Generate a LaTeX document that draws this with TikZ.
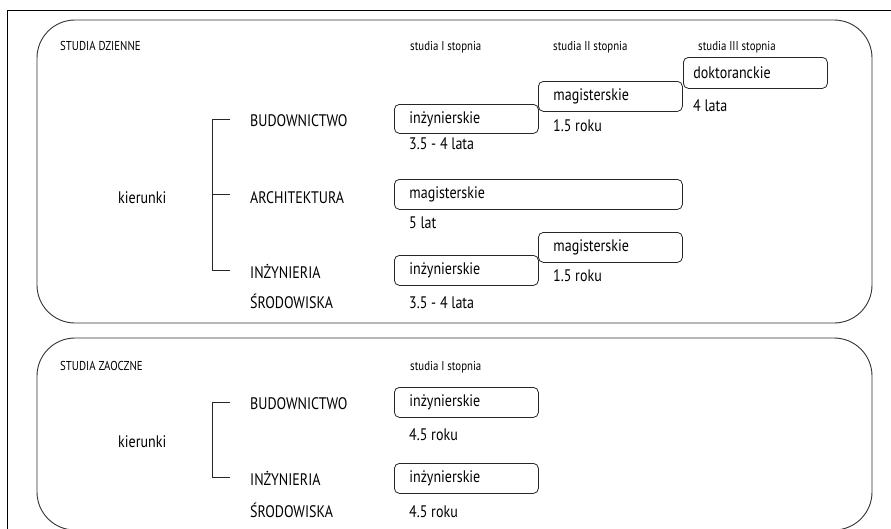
\documentclass[tikz,border=0pt]{standalone}
\usepackage{fontspec}
\setmainfont[FakeStretch=0.84]{PT Sans}
\begin{document}
\begin{tikzpicture}[x=1pt,y=-1pt,
  lbl/.style={anchor=base west, inner sep=0pt, font=\fontsize{16.7}{19}\selectfont},
  hdr/.style={anchor=base west, inner sep=0pt, font=\fontsize{12.9}{15}\selectfont},
  stagebox/.style={draw=black!85, line width=0.8pt, rounded corners=5pt, anchor=north west,
    minimum height=30pt, inner ysep=0pt, inner xsep=15pt, align=left,
    font=\fontsize{16.7}{19}\selectfont},
  panel/.style={draw=black!80, line width=0.9pt, rounded corners=38pt},
  frame/.style={draw=black, line width=0.9pt},
  bracket/.style={draw=black!85, line width=0.8pt}]
\useasboundingbox (0,0) rectangle (891,528);

% outer frame
\coordinate (fbl) at (7,530);
\coordinate (ftl) at (7,10);
\coordinate (ftr) at (893,10);
\draw[frame] (fbl) -- (ftl) -- (ftr);

% panels
\draw[panel] (37,20) rectangle (872,323);
\draw[panel] (37,338) rectangle (872,530);

% ===== STUDIA DZIENNE =====
\node[hdr] (h1) at (60,50) {STUDIA DZIENNE};
\node[hdr] (s1) at (410,50) {studia I stopnia};
\node[hdr] (s2) at (553,50) {studia II stopnia};
\node[hdr] (s3) at (698,50) {studia III stopnia};

\node[lbl] (k1) at (118,203) {kierunki};
\node[lbl] (bud1) at (250,126) {BUDOWNICTWO};
\node[lbl] (arch) at (250,203) {ARCHITEKTURA};
\node[lbl] (inz1) at (250,278) {INŻYNIERIA};
\node[lbl] (sro1) at (250,308) {ŚRODOWISKA};

\coordinate (t1a) at (212,119); \coordinate (t1b) at (230,119);
\coordinate (t2a) at (212,194); \coordinate (t2b) at (230,194);
\coordinate (t3a) at (212,270); \coordinate (t3b) at (230,270);
\draw[bracket] (t1b) -- (t1a) -- (t3a) -- (t3b);
\draw[bracket] (t2a) -- (t2b);

\node[stagebox, text width=114pt, minimum height=29pt] (b1) at (394,104) {inżynierskie};
\node[lbl] (d1) at (409,149) {3.5 - 4 lata};
\node[stagebox, text width=114pt] (m1) at (538,81) {magisterskie};
\node[lbl] (d2) at (553,131) {1.5 roku};
\node[stagebox, text width=124pt, inner xsep=10pt, minimum height=31pt] (dk) at (683,57) {doktoranckie};
\node[lbl] (d3) at (693,111) {4 lata};

\node[stagebox, text width=258pt] (m2) at (394,179) {magisterskie};
\node[lbl] (d4) at (409,228) {5 lat};

\node[stagebox, text width=114pt] (m3) at (538,232) {magisterskie};
\node[lbl] (d5) at (553,281) {1.5 roku};
\node[stagebox, text width=114pt] (b3) at (394,255) {inżynierskie};
\node[lbl] (d6) at (409,308) {3.5 - 4 lata};

% ===== STUDIA ZAOCZNE =====
\node[hdr] (h2) at (60,370) {STUDIA ZAOCZNE};
\node[hdr] (s4) at (410,370) {studia I stopnia};

\node[lbl] (k2) at (118,447) {kierunki};
\node[lbl] (bud2) at (250,409) {BUDOWNICTWO};
\node[lbl] (inz2) at (250,485) {INŻYNIERIA};
\node[lbl] (sro2) at (250,517) {ŚRODOWISKA};

\coordinate (u1a) at (212,402); \coordinate (u1b) at (230,402);
\coordinate (u2a) at (212,477); \coordinate (u2b) at (230,477);
\draw[bracket] (u1b) -- (u1a) -- (u2a) -- (u2b);

\node[stagebox, text width=114pt] (z1) at (394,387) {inżynierskie};
\node[lbl] (d7) at (409,440) {4.5 roku};
\node[stagebox, text width=114pt] (z2) at (394,463) {inżynierskie};
\node[lbl] (d8) at (409,517) {4.5 roku};
\end{tikzpicture}
\end{document}
